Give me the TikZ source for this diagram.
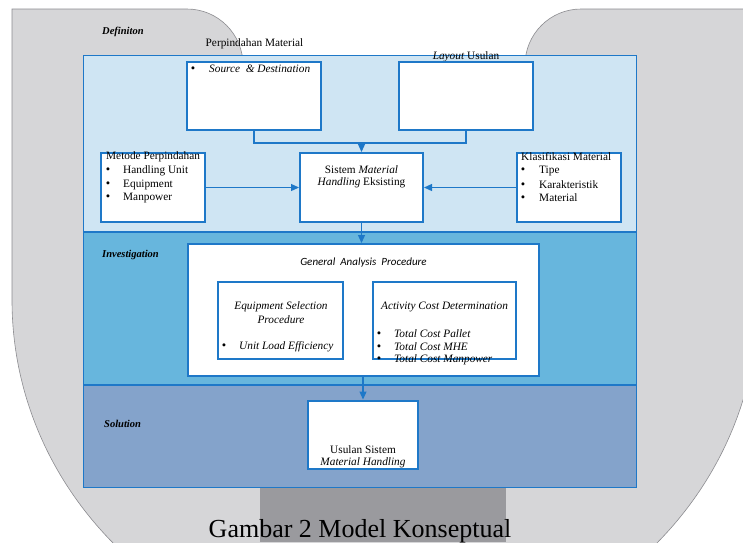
\documentclass[tikz,border=0pt]{standalone}
\usepackage{fontspec}
\setmainfont{Liberation Serif}
\newfontfamily\calib{Carlito}
\usetikzlibrary{arrows.meta}
\definecolor{greyL}{HTML}{D6D6D8}
\definecolor{greyD}{HTML}{9A9A9E}
\definecolor{greyE}{HTML}{8C8C90}
\definecolor{bandA}{HTML}{CFE5F3}
\definecolor{bandB}{HTML}{67B6DD}
\definecolor{bandC}{HTML}{84A3CB}
\definecolor{bblue}{HTML}{1E78C8}
\tikzset{
  wbox/.style={draw=bblue, line width=2pt, fill=white, rectangle, inner sep=0pt},
  band/.style={draw=bblue, line width=0.9pt},
  conn/.style={draw=bblue, line width=1.2pt},
  arr/.style={conn, -{Triangle[length=8pt,width=7pt]}},
  txt/.style={inner sep=0pt, font=\fontsize{11.3}{13}\selectfont},
  lbl/.style={inner sep=0pt, font=\fontsize{10.5}{12.5}\selectfont\bfseries\itshape, anchor=west},
  bul/.style={inner sep=0pt, anchor=base, font=\fontsize{12.5}{13}\selectfont},
}
\begin{document}
\begin{tikzpicture}[x=1pt,y=-1pt]
\useasboundingbox (0,0) rectangle (743,542);
\clip (0,0) rectangle (743,542);
% grey background shape
\path[fill=greyL, draw=greyE, line width=0.6pt]
  (12,300) -- (12,9) [rounded corners=56pt] -- (243,9) -- (243,140)
  [sharp corners] -- (525,140) [rounded corners=56pt] -- (525,9) -- (800,9)
  [sharp corners] -- (758,9) -- (758,300)
  arc[start angle=0, end angle=180, x radius=373, y radius=355] -- cycle;
\fill[greyD] (260,487) rectangle (506,542);
% bands
\filldraw[band, fill=bandA] (83,55) rectangle (636,232);
\filldraw[band, fill=bandB] (83,232) rectangle (636,385);
\filldraw[band, fill=bandC] (83,385) rectangle (636,487);
\draw[bblue, line width=1.8pt] (83,232) -- (636,232);
\draw[bblue, line width=1.8pt] (83,385) -- (636,385);
% labels
\node[lbl] (ldef) at (102,32) {Definiton};
\node[lbl] (linv) at (102,255) {Investigation};
\node[lbl] (lsol) at (104,424) {Solution};
\node[txt] (tper) at (254.5,44) {Perpindahan Material};
\node[txt] (tlay) at (466,57) {\textit{Layout} Usulan};
% boxes
\node[wbox, minimum width=134pt, minimum height=68pt] (src) at (254,96) {};
\node[wbox, minimum width=134pt, minimum height=68pt] (lay) at (466,96) {};
\node[wbox, minimum width=104pt, minimum height=69pt] (met) at (153,187.5) {};
\node[wbox, minimum width=123pt, minimum height=69pt] (sis) at (361.5,187.5) {};
\node[wbox, minimum width=104pt, minimum height=69pt] (kla) at (569,187.5) {};
\node[wbox, minimum width=351pt, minimum height=132pt] (gap) at (363.5,310) {};
\node[wbox, minimum width=125pt, minimum height=77pt] (eqp) at (280.5,320.5) {};
\node[wbox, minimum width=143pt, minimum height=77pt] (act) at (444.5,320.5) {};
\node[wbox, minimum width=110pt, minimum height=68pt] (usu) at (363,434.5) {};
% texts in boxes
\node[txt, anchor=west] (t1) at (209,69) {\textit{Source \ \& Destination}};
\path (t1.base west) ++(-16,0) node[bul] (b1) {\textbullet};
\node[txt, anchor=west] (t2) at (106,157) {Metode Perpindahan};
\node[txt, anchor=west] (t3) at (123,171) {Handling Unit};
\path (t3.base west) ++(-15,0) node[bul] (b2) {\textbullet};
\node[txt, anchor=west] (t4) at (123,185) {Equipment};
\path (t4.base west) ++(-15,0) node[bul] (b3) {\textbullet};
\node[txt, anchor=west] (t5) at (123,197.5) {Manpower};
\path (t5.base west) ++(-15,0) node[bul] (b4) {\textbullet};
\node[txt] (t6) at (361.5,170) {Sistem \textit{Material}};
\node[txt] (t7) at (361.5,183) {\textit{Handling} Eksisting};
\node[txt, anchor=west] (t8) at (521,157) {Klasifikasi Material};
\node[txt, anchor=west] (t9) at (539,171) {Tipe};
\path (t9.base west) ++(-16,0) node[bul] (b5) {\textbullet};
\node[txt, anchor=west] (t10) at (539,185) {Karakteristik};
\path (t10.base west) ++(-16,0) node[bul] (b6) {\textbullet};
\node[txt, anchor=west] (t11) at (539,197.5) {Material};
\path (t11.base west) ++(-16,0) node[bul] (b7) {\textbullet};
\node[inner sep=0pt, font=\calib\itshape\fontsize{11}{13}\selectfont] (t12) at (363.5,263) {General \ Analysis \ Procedure};
\node[txt] (t13) at (281,307) {\textit{Equipment Selection}};
\node[txt] (t14) at (281,319.5) {\textit{Procedure}};
\node[txt, anchor=west] (t15) at (239,347) {\textit{Unit Load Efficiency}};
\path (t15.base west) ++(-15,0) node[bul] (b8) {\textbullet};
\node[txt] (t16) at (444.5,307) {\textit{Activity Cost Determination}};
\node[txt, anchor=west] (t17) at (394,334) {\textit{Total Cost Pallet}};
\path (t17.base west) ++(-15,0) node[bul] (b9) {\textbullet};
\node[txt, anchor=west] (t18) at (394,347) {\textit{Total Cost MHE}};
\path (t18.base west) ++(-15,0) node[bul] (b10) {\textbullet};
\node[txt, anchor=west] (t19) at (394,359.5) {\textit{Total Cost Manpower}};
\path (t19.base west) ++(-15,0) node[bul] (b11) {\textbullet};
\node[txt] (t20) at (363,450) {Usulan Sistem};
\node[txt] (t21) at (363,463) {\textit{Material Handling}};
% caption
\node[inner sep=0pt, anchor=base, font=\fontsize{26}{30}\selectfont] (cap) at (360,537) {Gambar 2 Model Konseptual};
% connectors
\coordinate (j) at (361.5,143);
\draw[conn] (src.south) |- (j) -| (lay.south);
\draw[arr] (j) -- (sis.north);
\draw[arr] (met.east) -- (sis.west);
\draw[arr] (kla.west) -- (sis.east);
\draw[arr] (sis.south) -- (sis.south |- gap.north);
\draw[arr] (gap.south -| usu.north) -- (usu.north);
\end{tikzpicture}
\end{document}
